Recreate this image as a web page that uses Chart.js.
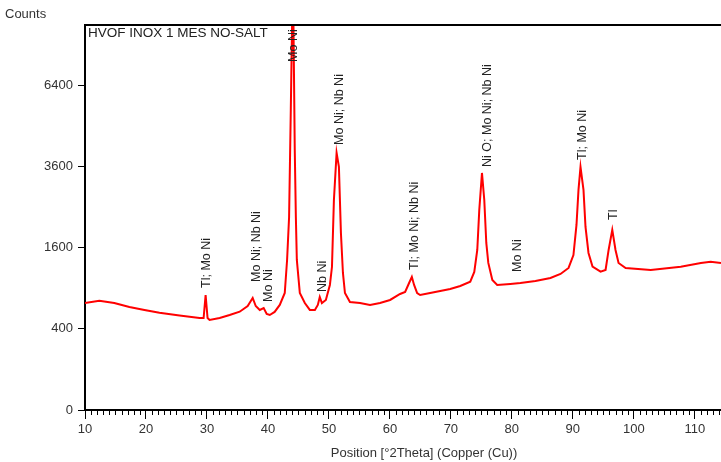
<!DOCTYPE html>
<html>
<head>
<meta charset="utf-8">
<script src="https://cdn.jsdelivr.net/npm/chart.js@4.4.1/dist/chart.umd.min.js"></script>
<style>
  body { margin: 0; background: #fff; }
  #wrap { width: 721px; height: 462px; position: relative; }
</style>
</head>
<body>
<div id="wrap"><canvas id="xrd"></canvas></div>
<script>
// diffractogram (2theta in degrees, counts)
var theta = [
  9.9, 12.35, 14.8, 17.28, 19.75, 22.21, 25.5, 28.79, 29.45, 29.78, 30.1, 30.43,
  32.08, 33.72, 35.37, 36.68, 37.5, 38.0, 38.66, 39.3, 39.8, 40.3, 41.1, 41.94,
  42.76, 43.14, 43.47, 43.75, 44.0, 44.16, 44.4, 44.58, 44.74, 45.23, 46.05, 46.87,
  47.7, 48.18, 48.5, 48.85, 49.5, 50.16, 50.5, 50.82, 51.26, 51.64, 51.97, 52.3,
  52.63, 53.45, 55.1, 56.74, 58.38, 60.03, 61.67, 62.5, 63.15, 63.6, 63.97, 64.47,
  64.96, 66.6, 68.25, 69.89, 71.54, 73.18, 73.84, 74.33, 74.66, 75.1, 75.48, 75.81,
  76.14, 76.8, 77.6, 79.75, 81.4, 83.87, 86.33, 87.98, 89.3, 90.1, 90.6, 90.93,
  91.26, 91.75, 92.08, 92.57, 93.23, 94.55, 95.37, 95.87, 96.47, 97.0, 97.5, 98.66,
  102.77, 107.7, 111.0, 112.6, 114.3
];
var counts = [
  694, 725, 694, 644, 607, 574, 542, 513, 513, 802, 513, 491,
  513, 547, 586, 656, 761, 656, 607, 631, 559, 547, 583, 669,
  830, 1365, 2260, 5461, 9800, 9800, 4101, 2260, 1365, 830, 694, 607,
  607, 669, 775, 694, 734, 948, 1240, 2675, 4007, 3582, 1901, 1139,
  830, 708, 694, 669, 694, 734, 816, 845, 978, 1073, 948, 830,
  802, 830, 859, 888, 933, 999, 1155, 1553, 2427, 3407, 2675, 1692,
  1311, 1025, 948, 963, 978, 1009, 1057, 1122, 1223, 1457, 2076, 2936,
  3582, 2936, 2032, 1495, 1246, 1160, 1189, 1553, 1966, 1553, 1311, 1223,
  1189, 1246, 1311, 1334, 1311
];

// phase labels: position, count where the text starts, text
var peakTheta = [29.97, 38.15, 40.13, 44.24, 49.0, 51.8, 64.1, 75.97, 80.9, 91.6, 96.7];
var peakBase  = [903, 994, 708, 7347, 845, 4260, 1189, 3582, 1155, 3791, 2190];
var peakText  = ['Tl; Mo Ni', 'Mo Ni; Nb Ni', 'Mo Ni', 'Mo Ni', 'Nb Ni', 'Mo Ni; Nb Ni',
                 'Tl; Mo Ni; Nb Ni', 'Ni O; Mo Ni; Nb Ni', 'Mo Ni', 'Tl; Mo Ni', 'Tl'];

var yTicks = [0, 400, 1600, 3600, 6400];
var xTicks = [10, 20, 30, 40, 50, 60, 70, 80, 90, 100, 110];

var FONT = '"Liberation Sans", Arial, sans-serif';

// square root count axis
var pts = [];
for (var i = 0; i < theta.length; i++) {
  pts.push({ x: theta[i], y: Math.sqrt(counts[i]) });
}

var extras = {
  id: 'extras',
  afterDraw: function(chart) {
    var c = chart.ctx;
    var a = chart.chartArea;
    var sx = chart.scales.x, sy = chart.scales.y;
    c.save();

    // top frame line
    c.strokeStyle = '#000';
    c.lineWidth = 2;
    c.beginPath();
    c.moveTo(a.left - 1, a.top);
    c.lineTo(a.right, a.top);
    c.stroke();

    // minor ticks every degree
    c.lineWidth = 1;
    c.beginPath();
    for (var v = 11; v < 115; v++) {
      if (v % 10 === 0) continue;
      var px = Math.round(sx.getPixelForValue(v)) + 0.5;
      if (px > a.right) break;
      c.moveTo(px, a.bottom);
      c.lineTo(px, a.bottom + 5);
    }
    c.stroke();

    // peak labels
    c.fillStyle = '#222';
    c.font = '12.5px ' + FONT;
    c.textBaseline = 'middle';
    c.textAlign = 'left';
    for (var k = 0; k < peakText.length; k++) {
      var x = sx.getPixelForValue(peakTheta[k]);
      var y = sy.getPixelForValue(Math.sqrt(peakBase[k]));
      c.save();
      c.translate(x, y);
      c.rotate(-Math.PI / 2);
      c.fillText(peakText[k], 0, 0);
      c.restore();
    }

    // sample name
    c.font = '13.5px ' + FONT;
    c.textBaseline = 'top';
    c.fillText('HVOF INOX 1 MES NO-SALT', a.left + 3, a.top + 2);

    // axis titles
    c.font = '13px ' + FONT;
    c.fillStyle = '#333';
    c.textBaseline = 'middle';
    c.fillText('Counts', 5, 14);
    c.textAlign = 'center';
    c.fillText('Position [\u00b02Theta] (Copper (Cu))', 424, 453);
    c.restore();
  }
};

new Chart(document.getElementById('xrd'), {
  type: 'line',
  data: {
    datasets: [{
      data: pts,
      borderColor: '#ff0000',
      borderWidth: 2,
      pointRadius: 0,
      tension: 0,
      fill: false
    }]
  },
  options: {
    responsive: true,
    maintainAspectRatio: false,
    animation: false,
    layout: { padding: { top: 25, right: 0, left: 0, bottom: 0 } },
    plugins: { legend: { display: false }, tooltip: { enabled: false } },
    scales: {
      x: {
        type: 'linear',
        min: 10,
        max: 114.3,
        afterBuildTicks: function(s) {
          s.ticks = xTicks.map(function(v) { return { value: v }; });
        },
        afterFit: function(s) { s.height = 52; },
        ticks: {
          color: '#333',
          font: { family: FONT, size: 13 },
          padding: 3,
          maxRotation: 0,
          autoSkip: false
        },
        grid: { drawOnChartArea: false, drawTicks: true, tickLength: 9, color: '#000' },
        border: { color: '#000', width: 2 }
      },
      y: {
        min: 0,
        max: 94.8,
        afterBuildTicks: function(s) {
          s.ticks = yTicks.map(function(v) { return { value: Math.sqrt(v) }; });
        },
        afterFit: function(s) { s.width = 85; },
        ticks: {
          color: '#333',
          font: { family: FONT, size: 13 },
          padding: 5,
          callback: function(v) { return Math.round(v * v); }
        },
        grid: { drawOnChartArea: false, drawTicks: true, tickLength: 7, color: '#000' },
        border: { color: '#000', width: 2 }
      }
    }
  },
  plugins: [extras]
});
</script>
</body>
</html>
